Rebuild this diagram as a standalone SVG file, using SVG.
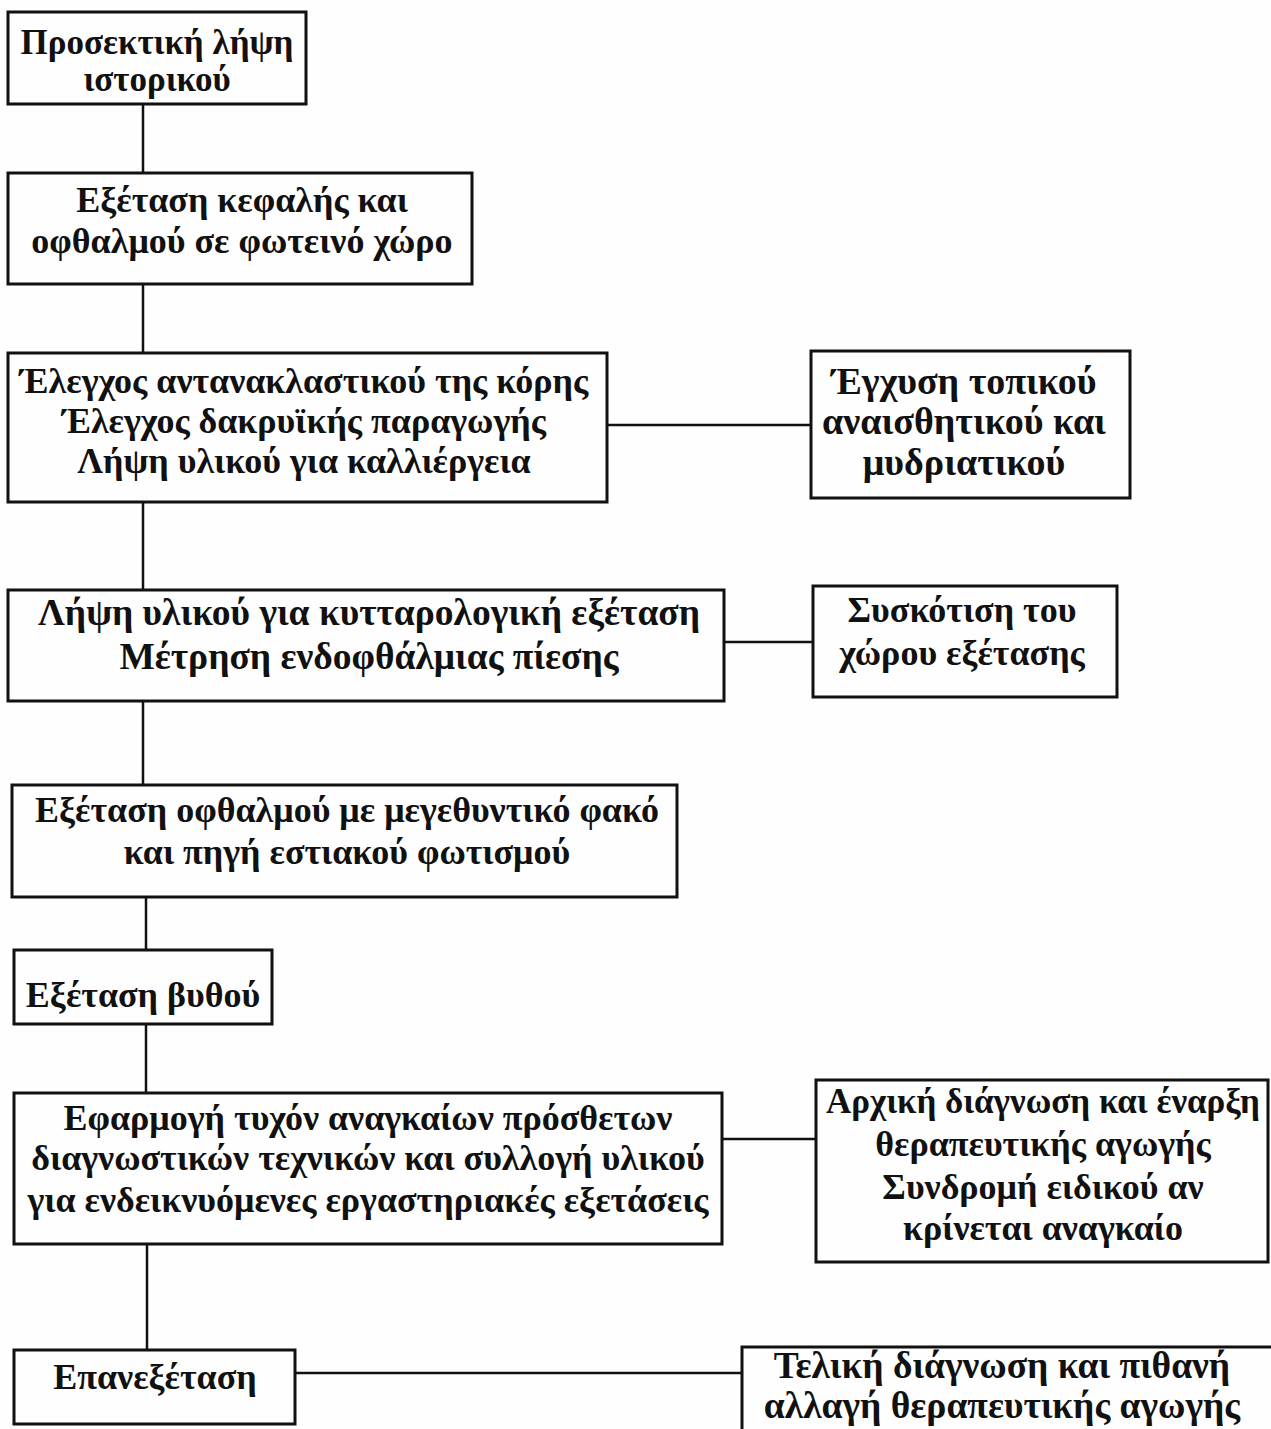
<svg xmlns="http://www.w3.org/2000/svg" width="1271" height="1429" viewBox="0 0 1271 1429">
<style>
.box{fill:none;stroke:#111;stroke-width:3}
.ln{stroke:#111;stroke-width:2.5;fill:none}
text{font-family:"Liberation Serif","Times New Roman",serif;font-weight:bold;font-size:36px;fill:#111;text-anchor:middle}
.big{font-size:38px}
.mid{font-size:37.5px}
.sm{font-size:35px}
</style>
<rect width="1271" height="1429" fill="#fefefe"/>
<g id="connectors">
<line class="ln" x1="143" y1="104" x2="143" y2="173"/>
<line class="ln" x1="143" y1="284" x2="143" y2="353"/>
<line class="ln" x1="607" y1="425" x2="811" y2="425"/>
<line class="ln" x1="143" y1="502" x2="143" y2="590"/>
<line class="ln" x1="724" y1="642" x2="813" y2="642"/>
<line class="ln" x1="143" y1="701" x2="143" y2="785"/>
<line class="ln" x1="146" y1="897" x2="146" y2="950"/>
<line class="ln" x1="146" y1="1024" x2="146" y2="1093"/>
<line class="ln" x1="722" y1="1139" x2="816" y2="1139"/>
<line class="ln" x1="147" y1="1244" x2="147" y2="1350"/>
<line class="ln" x1="295" y1="1373" x2="742" y2="1373"/>
</g>
<g id="n1"><rect class="box" x="8" y="12" width="298" height="92"/><text class="sm" x="157" y="54">Προσεκτική λήψη</text><text class="sm" x="157" y="91">ιστορικού</text></g>
<g id="n2"><rect class="box" x="8" y="173" width="464" height="111"/><text x="242" y="212">Εξέταση κεφαλής και</text><text x="242" y="253">οφθαλμού σε φωτεινό χώρο</text></g>
<g id="n3"><rect class="box" x="8" y="353" width="599" height="149"/><text x="304" y="393">Έλεγχος αντανακλαστικού της κόρης</text><text x="304" y="433">Έλεγχος δακρυϊκής παραγωγής</text><text x="304" y="473">Λήψη υλικού για καλλιέργεια</text></g>
<g id="n3b"><rect class="box" x="811" y="351" width="319" height="147"/><text class="big" x="964" y="394">Έγχυση τοπικού</text><text class="big" x="964" y="434">αναισθητικού και</text><text class="big" x="964" y="475">μυδριατικού</text></g>
<g id="n4"><rect class="box" x="8" y="590" width="716" height="111"/><text class="mid" x="369" y="625">Λήψη υλικού για κυτταρολογική εξέταση</text><text class="mid" x="369" y="669">Μέτρηση ενδοφθάλμιας πίεσης</text></g>
<g id="n4b"><rect class="box" x="813" y="586" width="304" height="111"/><text x="962" y="622">Συσκότιση του</text><text x="962" y="665">χώρου εξέτασης</text></g>
<g id="n5"><rect class="box" x="12" y="785" width="665" height="112"/><text x="347" y="822">Εξέταση οφθαλμού με μεγεθυντικό φακό</text><text x="347" y="864">και πηγή εστιακού φωτισμού</text></g>
<g id="n6"><rect class="box" x="14" y="950" width="258" height="74"/><text x="143" y="1007">Εξέταση βυθού</text></g>
<g id="n7"><rect class="box" x="14" y="1093" width="708" height="151"/><text x="368" y="1130">Εφαρμογή τυχόν αναγκαίων πρόσθετων</text><text x="368" y="1170">διαγνωστικών τεχνικών και συλλογή υλικού</text><text x="368" y="1212">για ενδεικνυόμενες εργαστηριακές εξετάσεις</text></g>
<g id="n7b"><rect class="box" x="816" y="1080" width="452" height="182"/><text class="sm" x="1043" y="1113">Αρχική διάγνωση και έναρξη</text><text x="1043" y="1156">θεραπευτικής αγωγής</text><text x="1043" y="1199">Συνδρομή ειδικού αν</text><text x="1043" y="1240">κρίνεται αναγκαίο</text></g>
<g id="n8"><rect class="box" x="14" y="1350" width="281" height="74"/><text x="155" y="1389">Επανεξέταση</text></g>
<g id="n8b"><rect class="box" x="742" y="1347" width="560" height="120"/><text class="mid" x="1002" y="1378">Τελική διάγνωση και πιθανή</text><text class="mid" x="1002" y="1418">αλλαγή θεραπευτικής αγωγής</text></g>
</svg>
